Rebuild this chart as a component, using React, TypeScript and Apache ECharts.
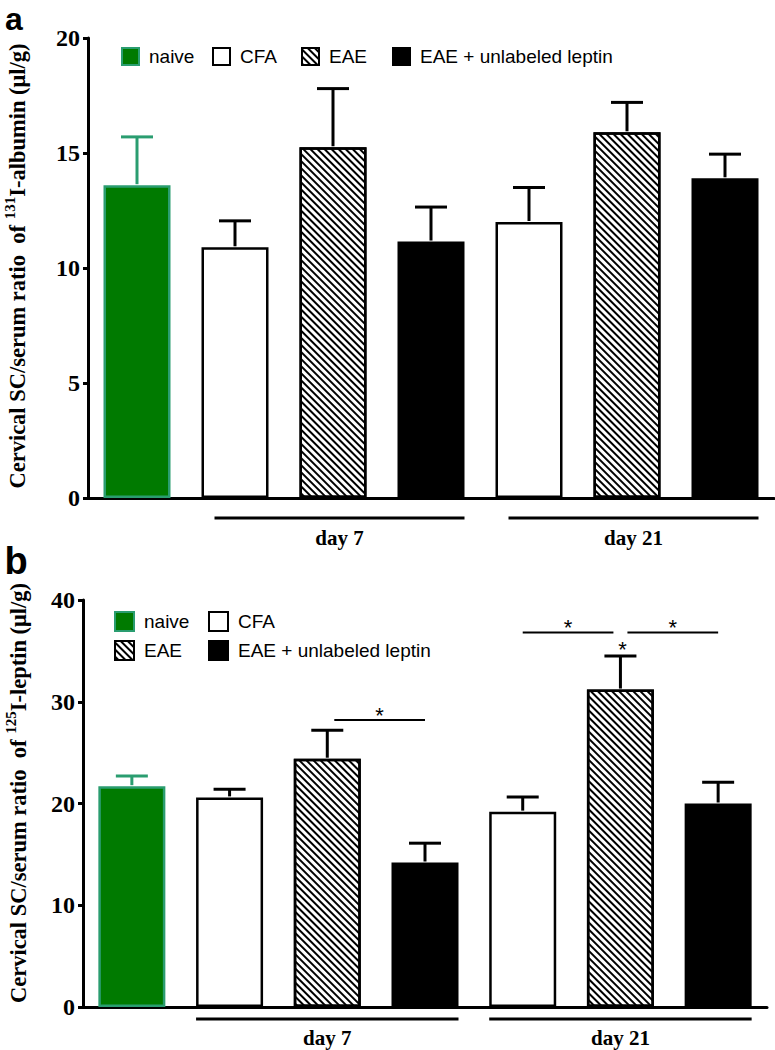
import React, { useEffect, useRef } from 'react';
import * as echarts from 'echarts';

// ---------- data ----------
const categories = ['naive', 'CFA day 7', 'EAE day 7', 'EAE + unlabeled leptin day 7', 'CFA day 21', 'EAE day 21', 'EAE + unlabeled leptin day 21'];
const groupOf = ['naive', 'CFA', 'EAE', 'EAE + unlabeled leptin', 'CFA', 'EAE', 'EAE + unlabeled leptin'];
const legendNames = ['naive', 'CFA', 'EAE', 'EAE + unlabeled leptin'];

const albuminMean = [13.6, 10.9, 15.25, 11.15, 12.0, 15.9, 13.9];
const albuminUpper = [15.7, 12.05, 17.8, 12.65, 13.5, 17.2, 14.95];
const leptinMean = [21.7, 20.6, 24.4, 14.2, 19.2, 31.2, 20.0];
const leptinUpper = [22.7, 21.4, 27.2, 16.1, 20.65, 34.5, 22.1];

const albuminAxis = { min: 0, max: 20, interval: 5 };
const leptinAxis = { min: 0, max: 40, interval: 10 };

const dayGroups = [
  { label: 'day 7', from: 1, to: 3 },
  { label: 'day 21', from: 4, to: 6 },
];
// [fromCategory, toCategory, y]
const leptinBrackets = [
  [2, 3, 28.2],
  [4, 5, 36.8],
  [5, 6, 36.8],
];
// [category, y]
const leptinStars = [[5, 35.6]];

// ---------- styles ----------
const GREEN = '#007a00';
const GREEN_EDGE = '#2a9d70';
const serif = 'Liberation Serif';
const sans = 'Liberation Sans';

const hatch = {
  symbol: 'rect',
  symbolSize: 1,
  dashArrayX: [[1, 0]],
  dashArrayY: [2, 2.5],
  rotation: Math.PI / 4,
  color: '#000',
};

const groupStyle: Record<string, any> = {
  naive: { color: GREEN, borderColor: GREEN_EDGE, borderWidth: 2.5 },
  CFA: { color: '#fff', borderColor: '#000', borderWidth: 2.5 },
  EAE: { color: '#fff', borderColor: '#000', borderWidth: 2.5, decal: hatch },
  'EAE + unlabeled leptin': { color: '#000', borderColor: '#000', borderWidth: 2.5 },
};

const hatchedIdx = groupOf.map((g, i) => (g === 'EAE' ? i : -1)).filter((i) => i >= 0);

const BAR_W = 67;

function panelSeries(p: number, mean: number[], upper: number[], groupInset: number, lineOff: number, labelOff: number) {
  const s: any[] = [];
  legendNames.forEach((name) => {
    s.push({
      type: 'bar',
      name,
      xAxisIndex: p,
      yAxisIndex: p,
      barWidth: BAR_W,
      barGap: '-100%',
      itemStyle: groupStyle[name],
      data: mean.map((v, i) => (groupOf[i] === name ? v : '-')),
      z: 2,
    });
  });
  s.push({
    type: 'custom',
    name: 'err' + p,
    xAxisIndex: p,
    yAxisIndex: p,
    z: 3,
    data: mean.map((v, i) => [i, v, upper[i]]),
    renderItem: (params: any, api: any) => {
      const i = api.value(0);
      const a = api.coord([i, api.value(1)]);
      const b = api.coord([i, api.value(2)]);
      const c = groupOf[i] === 'naive' ? GREEN_EDGE : '#000';
      return {
        type: 'group',
        children: [
          { type: 'line', shape: { x1: a[0], y1: a[1] - 1, x2: b[0], y2: b[1] }, style: { stroke: c, lineWidth: 3 } },
          { type: 'line', shape: { x1: b[0] - 16, y1: b[1], x2: b[0] + 16, y2: b[1] }, style: { stroke: c, lineWidth: 3 } },
        ],
      };
    },
  });
  s.push({
    type: 'custom',
    name: 'days' + p,
    xAxisIndex: p,
    yAxisIndex: p,
    z: 3,
    clip: false,
    data: dayGroups.map((g) => [g.from, g.to]),
    renderItem: (params: any, api: any) => {
      const g = dayGroups[params.dataIndex];
      const a = api.coord([api.value(0), 0]);
      const b = api.coord([api.value(1), 0]);
      const x1 = a[0] - BAR_W / 2 + groupInset;
      const x2 = b[0] + BAR_W / 2;
      return {
        type: 'group',
        children: [
          { type: 'line', shape: { x1, y1: a[1] + lineOff, x2, y2: a[1] + lineOff }, style: { stroke: '#000', lineWidth: 3 } },
          {
            type: 'text',
            x: (x1 + x2) / 2,
            y: a[1] + labelOff,
            style: { text: g.label, font: `bold 21px "${serif}"`, fill: '#000', align: 'center', verticalAlign: 'middle' },
          },
        ],
      };
    },
  });
  return s;
}

function yAxisCfg(p: number, ax: any) {
  return {
    type: 'value',
    gridIndex: p,
    min: ax.min,
    max: ax.max,
    interval: ax.interval,
    splitLine: { show: false },
    axisLine: { show: true, lineStyle: { color: '#000', width: 3 } },
    axisTick: { show: true, length: 5, lineStyle: { color: '#000', width: 3 } },
    axisLabel: { color: '#000', fontFamily: serif, fontWeight: 'bold', fontSize: 24, margin: 8 },
  };
}

function xAxisCfg(p: number) {
  return {
    type: 'category',
    gridIndex: p,
    data: categories,
    axisLine: { show: true, lineStyle: { color: '#000', width: 3 } },
    axisTick: { show: false },
    axisLabel: { show: false },
  };
}

function legendCfg(name: string, left: number, top: number, size: number) {
  return {
    data: [name],
    left,
    top,
    padding: 0,
    itemWidth: size,
    itemHeight: size,
    icon: 'rect',
    selectedMode: false,
    textStyle: { color: '#000', fontFamily: sans, fontSize: 19, padding: [0, 0, 0, 5] },
  };
}

export default function App() {
  const ref = useRef<HTMLDivElement>(null);
  useEffect(() => {
    if (!ref.current) return;
    const chart = echarts.init(ref.current, null, { renderer: 'svg' });
    const series = [
      ...panelSeries(0, albuminMean, albuminUpper, 13, 20, 40),
      ...panelSeries(1, leptinMean, leptinUpper, 0, 12, 31),
      {
        type: 'custom',
        name: 'brackets',
        xAxisIndex: 1,
        yAxisIndex: 1,
        z: 4,
        clip: false,
        data: leptinBrackets,
        renderItem: (params: any, api: any) => {
          const from = api.value(0);
          const to = api.value(1);
          const a = api.coord([from, api.value(2)]);
          const b = api.coord([to, api.value(2)]);
          const x1 = a[0] + (hatchedIdx.includes(from) ? 7 : 0);
          const x2 = b[0] - (hatchedIdx.includes(to) ? 7 : 0);
          return {
            type: 'group',
            children: [
              { type: 'line', shape: { x1, y1: a[1], x2, y2: a[1] }, style: { stroke: '#000', lineWidth: 2 } },
              {
                type: 'text',
                x: (x1 + x2) / 2,
                y: a[1] - 5,
                style: { text: '*', font: `22px "${sans}"`, fill: '#000', align: 'center', verticalAlign: 'middle' },
              },
            ],
          };
        },
      },
      {
        type: 'custom',
        name: 'stars',
        xAxisIndex: 1,
        yAxisIndex: 1,
        z: 4,
        clip: false,
        data: leptinStars,
        renderItem: (params: any, api: any) => {
          const a = api.coord([api.value(0), api.value(1)]);
          return {
            type: 'text',
            x: a[0] + 2,
            y: a[1] + 5,
            style: { text: '*', font: `22px "${sans}"`, fill: '#000', align: 'center', verticalAlign: 'middle' },
          };
        },
      },
    ];

    const titleRich = {
      n: { fontFamily: serif, fontWeight: 'bold', fontSize: 22.5, lineHeight: 30, fill: '#000' },
      s: { fontFamily: serif, fontWeight: 'bold', fontSize: 15, lineHeight: 15, verticalAlign: 'top', fill: '#000' },
    };

    chart.setOption({
      animation: false,
      backgroundColor: '#fff',
      grid: [
        { left: 88, top: 38, width: 686, height: 460 },
        { left: 83, top: 600, width: 684, height: 407 },
      ],
      xAxis: [xAxisCfg(0), xAxisCfg(1)],
      yAxis: [yAxisCfg(0, albuminAxis), yAxisCfg(1, leptinAxis)],
      legend: [
        legendCfg('naive', 121, 47, 17),
        legendCfg('CFA', 212, 47, 17),
        legendCfg('EAE', 301, 47, 17),
        legendCfg('EAE + unlabeled leptin', 392, 47, 17),
        legendCfg('naive', 114, 611, 19),
        legendCfg('CFA', 208, 611, 19),
        legendCfg('EAE', 114, 640, 19),
        legendCfg('EAE + unlabeled leptin', 208, 640, 19),
      ],
      series,
      graphic: [
        { type: 'text', x: 14, y: 19, style: { text: 'a', font: `bold 32px "${sans}"`, fill: '#000', align: 'center', verticalAlign: 'middle' } },
        { type: 'text', x: 16, y: 561, style: { text: 'b', font: `bold 38px "${sans}"`, lineHeight: 32, fill: '#000', align: 'center', verticalAlign: 'middle' } },
        {
          type: 'text',
          x: 17,
          y: 266,
          rotation: Math.PI / 2,
          style: {
            text: '{n|Cervical SC/serum ratio  of }{s|131}{n|I-albumin (\u03bcl/g)}',
            rich: titleRich,
            align: 'center',
            verticalAlign: 'middle',
          },
        },
        {
          type: 'text',
          x: 18,
          y: 793,
          rotation: Math.PI / 2,
          style: {
            text: '{n|Cervical SC/serum ratio  of }{s|125}{n|I-leptin (\u03bcl/g)}',
            rich: titleRich,
            align: 'center',
            verticalAlign: 'middle',
          },
        },
      ],
    });
    return () => chart.dispose();
  }, []);
  return <div ref={ref} style={{ position: 'absolute', left: 0, top: 0, width: 775, height: 1050 }} />;
}
